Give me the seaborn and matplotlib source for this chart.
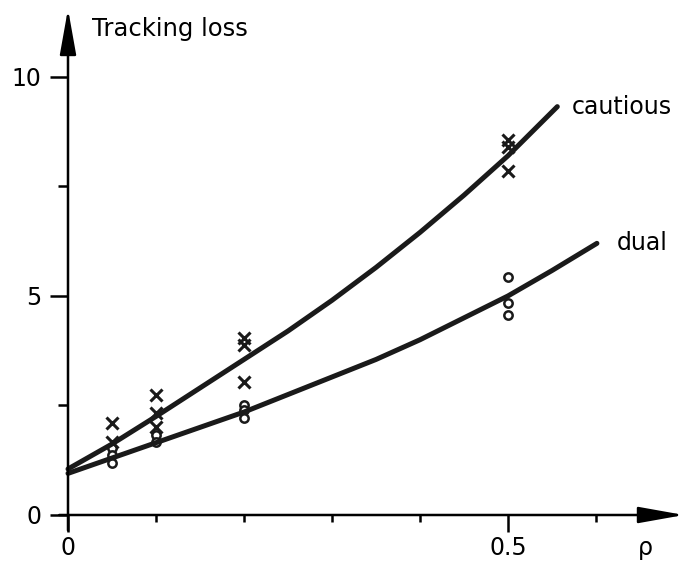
import pandas as pd
import seaborn as sns
import matplotlib.pyplot as plt

# curves
cautious_rho = [0.0, 0.05, 0.1, 0.15, 0.2, 0.25, 0.3, 0.35, 0.4, 0.45, 0.5, 0.556]
cautious_loss = [1.05, 1.62, 2.25, 2.9, 3.55, 4.2, 4.9, 5.65, 6.45, 7.3, 8.2, 9.32]
dual_rho = [0.0, 0.05, 0.1, 0.15, 0.2, 0.25, 0.3, 0.35, 0.4, 0.45, 0.5, 0.55, 0.601]
dual_loss = [0.95, 1.3, 1.65, 2.0, 2.35, 2.75, 3.15, 3.55, 4.0, 4.5, 5.0, 5.58, 6.2]

# simulated points
cross_rho = [0.05, 0.05, 0.1, 0.1, 0.1, 0.2, 0.2, 0.2, 0.5, 0.5, 0.5]
cross_loss = [2.1, 1.67, 2.74, 2.33, 2.0, 4.04, 3.88, 3.04, 8.56, 8.4, 7.85]
circle_rho = [0.05, 0.05, 0.05, 0.1, 0.1, 0.2, 0.2, 0.2, 0.5, 0.5, 0.5]
circle_loss = [1.52, 1.37, 1.19, 1.83, 1.67, 2.5, 2.4, 2.22, 5.43, 4.84, 4.57]

sns.set_style('white')
plt.rcParams['font.family'] = ['DejaVu Sans']
plt.rcParams['text.color'] = 'black'
plt.rcParams['xtick.color'] = 'black'
plt.rcParams['ytick.color'] = 'black'

df_c = pd.DataFrame({'rho': cautious_rho, 'loss': cautious_loss})
df_d = pd.DataFrame({'rho': dual_rho, 'loss': dual_loss})
df_x = pd.DataFrame({'rho': cross_rho, 'loss': cross_loss})
df_o = pd.DataFrame({'rho': circle_rho, 'loss': circle_loss})

fig = plt.figure(figsize=(6.8, 5.66), dpi=100)
ax = fig.add_axes([68 / 680, 51 / 566, 609 / 680, 503 / 566])

sns.lineplot(data=df_c, x='rho', y='loss', ax=ax, color='#1a1a1a', lw=3.6, clip_on=False)
sns.lineplot(data=df_d, x='rho', y='loss', ax=ax, color='#1a1a1a', lw=3.6, clip_on=False)
ax.plot(df_x['rho'], df_x['loss'], ls='none', marker='x', ms=8, mew=2.2, color='#1a1a1a')
ax.plot(df_o['rho'], df_o['loss'], ls='none', marker='o', ms=6, mew=1.8,
        mfc='white', color='#1a1a1a', zorder=1)

ax.set_xlim(0, 0.692)
ax.set_ylim(0, 11.48)
for s in ax.spines.values():
    s.set_visible(False)

# axes with arrow heads
arrow = dict(arrowstyle='-|>,head_length=2.8,head_width=0.5', lw=1.8, color='k',
             shrinkA=0, shrinkB=0)
ax.annotate('', xy=(0.7, 0), xytext=(-0.01, 0), arrowprops=arrow, annotation_clip=False)
ax.annotate('', xy=(0, 11.55), xytext=(0, -0.35), arrowprops=arrow, annotation_clip=False)

ax.set_xticks([0, 0.5])
ax.set_xticklabels(['0', '0.5'])
ax.set_xticks([0.1, 0.2, 0.3, 0.4, 0.6], minor=True)
ax.set_yticks([0, 5, 10])
ax.set_yticklabels(['0', '5', '10'])
ax.set_yticks([2.5, 7.5], minor=True)
ax.tick_params(axis='x', which='major', direction='out', length=12, width=1.8,
               labelsize=17, pad=3, bottom=True)
ax.tick_params(axis='x', which='minor', direction='out', length=5, width=1.8, bottom=True)
ax.tick_params(axis='y', which='major', direction='out', length=13, width=1.8,
               labelsize=17, pad=6, left=True)
ax.tick_params(axis='y', which='minor', direction='out', length=7, width=1.8, left=True)
ax.set_xlabel('')
ax.set_ylabel('')

ax.text(0.027, 11.1, 'Tracking loss', fontsize=17.5, va='center', ha='left')
ax.text(0.647, -0.75, 'ρ', fontsize=17, va='center', ha='left')
ax.text(0.572, 9.32, 'cautious', fontsize=17, va='center', ha='left')
ax.text(0.623, 6.2, 'dual', fontsize=17, va='center', ha='left')

fig.savefig('out.png', dpi=100)
